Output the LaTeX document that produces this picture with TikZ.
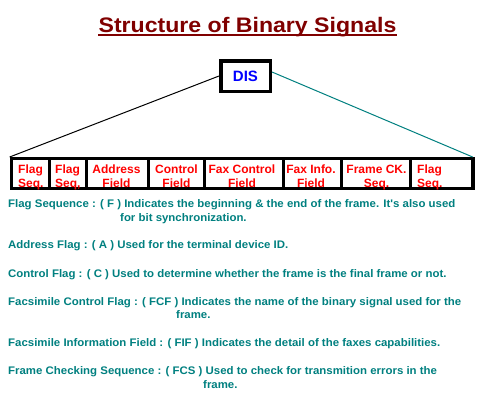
\documentclass[tikz,border=0pt]{standalone}
\usepackage{fontspec}
\setmainfont{Liberation Sans}
\newfontfamily\titlefont[FakeStretch=1.1]{Liberation Sans}
\newfontfamily\descfont[FakeStretch=1.04]{Liberation Sans}
\definecolor{maroonc}{HTML}{800000}
\definecolor{tealc}{HTML}{008080}
\definecolor{bluec}{HTML}{0000FF}
\definecolor{redc}{HTML}{FF0000}
\newcommand{\celltxt}[3]{\begin{tabular}[t]{@{}#1@{}}#2\\#3\end{tabular}}
\tikzset{
  framecell/.style={draw=black, line width=3.3pt, minimum height=29.7pt, inner sep=0pt, anchor=west},
  celllabel/.style={font=\fontsize{12}{14}\selectfont\bfseries, text=redc, inner sep=0pt},
  desc/.style={font=\descfont\fontsize{11}{13}\selectfont\bfseries, text=tealc, anchor=base west, inner sep=0pt},
}
\begin{document}
\begin{tikzpicture}[x=1pt,y=-1pt]
\useasboundingbox[fill=white] (0,0) rectangle (480,400);
% title
\node[font=\titlefont\fontsize{21}{24}\selectfont\bfseries, text=maroonc, anchor=base, inner sep=0pt] (title) at (247.5,32) {Structure of Binary Signals};
\draw[maroonc, line width=2pt] ([yshift=-3pt]title.base west) -- ([yshift=-3pt]title.base east);
% DIS box
\node[draw, line width=3.5pt, minimum width=49.5pt, minimum height=30.5pt, inner sep=0pt,
      font=\fontsize{15}{17}\selectfont\bfseries, text=bluec] (dis) at (245.5,76) {DIS};
% frame cells
\node[framecell, minimum width=37.85pt] (c1) at (9.65,173.5) {};
\node[framecell, minimum width=37.5pt] (c2) at (47.5,173.5) {};
\node[framecell, minimum width=62pt] (c3) at (85,173.5) {};
\node[framecell, minimum width=55.5pt] (c4) at (147,173.5) {};
\node[framecell, minimum width=79pt] (c5) at (202.5,173.5) {};
\node[framecell, minimum width=58pt] (c6) at (281.5,173.5) {};
\node[framecell, minimum width=69pt] (c7) at (339.5,173.5) {};
\node[framecell, minimum width=62.85pt] (c8) at (408.5,173.5) {};
% cell labels
\node[celllabel, anchor=base west] (t1) at (18,173) {\celltxt{l}{Flag}{Seq.}};
\node[celllabel, anchor=base west] (t2) at (55,173) {\celltxt{l}{Flag}{Seq,}};
\node[celllabel, anchor=base] (t3) at (116.5,173) {\celltxt{c}{Address}{Field}};
\node[celllabel, anchor=base] (t4) at (176.5,173) {\celltxt{c}{Control}{Field}};
\node[celllabel, anchor=base] (t5) at (242,173) {\celltxt{c}{Fax Control}{Field}};
\node[celllabel, anchor=base] (t6) at (311,173) {\celltxt{c}{Fax Info.}{Field}};
\node[celllabel, anchor=base] (t7) at (376.5,173) {\celltxt{c}{Frame CK.}{Seq.}};
\node[celllabel, anchor=base west] (t8) at (417,173) {\celltxt{l}{Flag}{Seq.}};
% connectors
\draw[black, line width=1pt] (dis.west) -- (c1.north west);
\draw[tealc, line width=1pt] ([yshift=4pt]dis.east) -- ([xshift=-2pt]c8.north east);
% descriptions
\node[desc] (d1) at (8,207) {Flag Sequence : ( F ) Indicates the beginning \& the end of the frame. It's also used};
\node[desc] (d1b) at (120,221) {for bit synchronization.};
\node[desc] (d2) at (8,248) {Address Flag : ( A ) Used for the terminal device ID.};
\node[desc] (d3) at (8,277) {Control Flag : ( C ) Used to determine whether the frame is the final frame or not.};
\node[desc] (d4) at (8,305) {Facsimile Control Flag : ( FCF ) Indicates the name of the binary signal used for the};
\node[desc] (d4b) at (176,318) {frame.};
\node[desc] (d5) at (8,346) {Facsimile Information Field : ( FIF ) Indicates the detail of the faxes capabilities.};
\node[desc] (d6) at (8,374) {Frame Checking Sequence : ( FCS ) Used to check for transmition errors in the};
\node[desc] (d6b) at (203,388) {frame.};
\end{tikzpicture}
\end{document}
